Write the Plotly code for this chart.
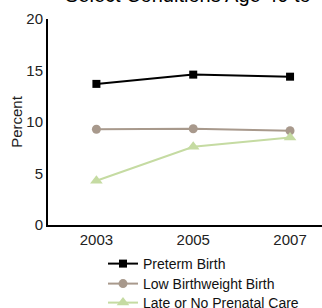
import plotly.graph_objects as go

years = [2003, 2005, 2007]
preterm = [13.7, 14.6, 14.4]
low_bw = [9.3, 9.35, 9.15]
late_care = [4.3, 7.6, 8.5]

series_names = ["Preterm Birth", "Low Birthweight Birth", "Late or No Prenatal Care"]
colors = ["#000000", "#a8998c", "#c5dba2"]
symbols = ["square", "circle", "triangle-up"]
sizes = [8, 9, 11]
legend_ids = ["legend", "legend2", "legend3"]
legend_rows = [260, 280, 299]  # row centres in pixels

fig = go.Figure()
for name, vals, c, s, sz, lg in zip(series_names, [preterm, low_bw, late_care], colors,
                                     symbols, sizes, legend_ids):
    fig.add_trace(go.Scatter(x=years, y=vals, name=name, mode="lines+markers",
                             line=dict(color=c, width=2), legend=lg,
                             marker=dict(symbol=s, size=sz, color=c)))

W, H = 322, 308
L, T, B = 48, 19, 83
PW, PH = W - L, H - T - B

layout_legends = {}
for lg, row in zip(legend_ids, legend_rows):
    layout_legends[lg] = dict(x=(103 - L) / PW, y=-(row - 12 - (H - B)) / PH,
                              xanchor="left", yanchor="top",
                              font=dict(size=14, color="#111"),
                              itemwidth=30, bgcolor="rgba(0,0,0,0)")

fig.update_layout(
    width=W, height=H,
    margin=dict(l=L, r=0, t=T, b=B, autoexpand=False),
    paper_bgcolor="white", plot_bgcolor="white",
    font=dict(family="Liberation Sans, Arial, sans-serif", color="#222"),
    showlegend=True,
    annotations=[dict(text="Select Conditions Age 40 to 44", x=(63 - L) / PW, xref="paper",
                      y=1 + (T - 8) / PH, yref="paper", xanchor="left", yanchor="bottom",
                      showarrow=False, font=dict(size=20, color="#000"))],
    **layout_legends,
)

fig.update_xaxes(range=[2002, 2007.66], tickvals=years, ticktext=[str(y) for y in years],
                 showgrid=False, zeroline=False, showline=True, linecolor="black",
                 linewidth=2, ticks="", tickfont=dict(size=15, color="#222"))
fig.update_yaxes(range=[0, 20], tickvals=[0, 5, 10, 15, 20], showgrid=False, zeroline=False,
                 showline=True, linecolor="black", linewidth=2, ticks="",
                 tickfont=dict(size=15, color="#222"),
                 title=dict(text="Percent", font=dict(size=15, color="#222"), standoff=0))

fig.write_html("out.html", config={"displayModeBar": False},
               post_script="document.body.style.margin='0';")
